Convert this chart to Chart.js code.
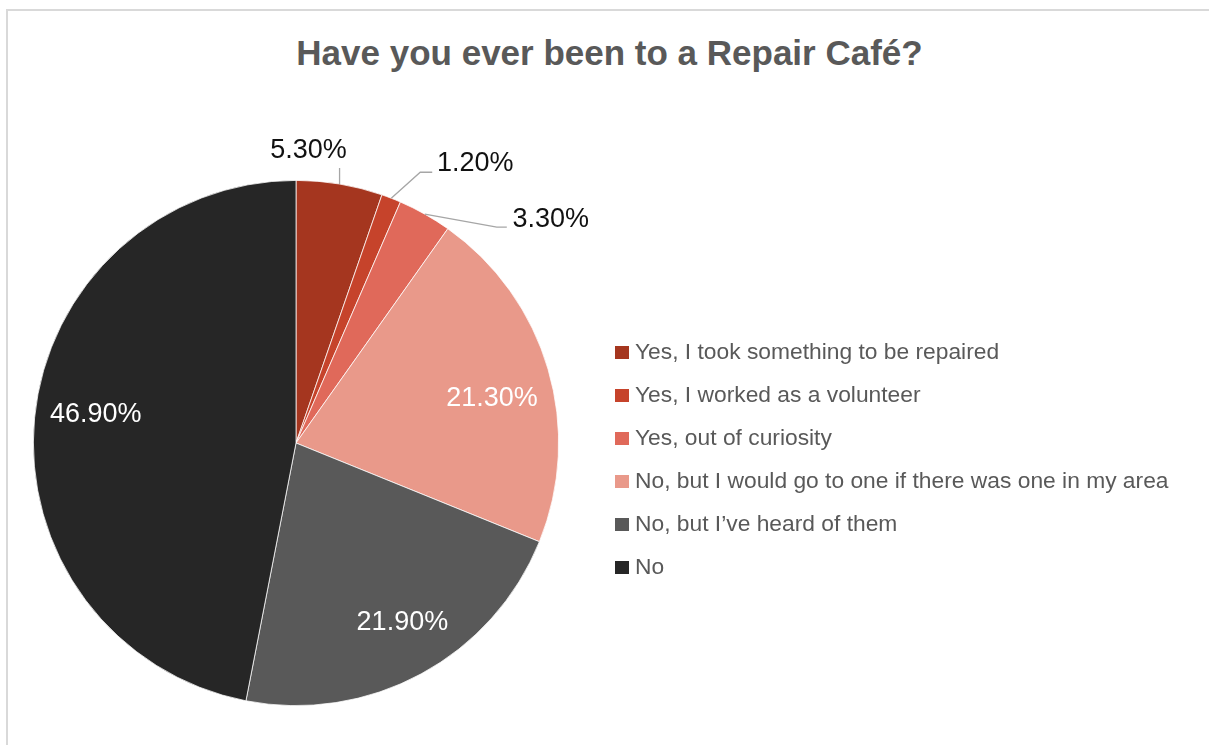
<!DOCTYPE html>
<html>
<head>
<meta charset="utf-8">
<title>Repair Café survey</title>
<script src="https://cdn.jsdelivr.net/npm/chart.js@4.4.1/dist/chart.umd.min.js"></script>
<style>
  html, body {
    margin: 0;
    padding: 0;
    background: #fff;
    overflow: hidden;
    font-family: "Liberation Sans", Arial, sans-serif;
  }
  .frame {
    position: absolute;
    left: 6px;
    top: 9px;
    width: 1400px;
    height: 900px;
    border-left: 2px solid #d9d9d9;
    border-top: 2px solid #d9d9d9;
  }
  .chart-title {
    position: absolute;
    left: 0;
    top: 33px;
    width: 1219px;
    text-align: center;
    font-size: 35px;
    line-height: 40px;
    font-weight: bold;
    color: #595959;
  }
  .chart-wrap {
    position: absolute;
    left: 0;
    top: 0;
    width: 1209px;
    height: 745px;
  }
  #legend {
    position: absolute;
    left: 615px;
    top: 330px;
    margin: 0;
    padding: 0;
    list-style: none;
  }
  #legend li {
    display: flex;
    align-items: center;
    height: 43px;
    font-size: 22.8px;
    color: #595959;
    white-space: nowrap;
  }
  #legend .box {
    width: 14px;
    height: 13px;
    margin-right: 6px;
    margin-top: 2px;
  }
</style>
</head>
<body>
<div class="frame"></div>
<div class="chart-title">Have you ever been to a Repair Café?</div>
<div class="chart-wrap"><canvas id="pieChart"></canvas></div>
<ul id="legend"></ul>

<script>
// --- data ---
const answers = [
  "Yes, I took something to be repaired",
  "Yes, I worked as a volunteer",
  "Yes, out of curiosity",
  "No, but I would go to one if there was one in my area",
  "No, but I\u2019ve heard of them",
  "No",
];
const shares = [5.3, 1.2, 3.3, 21.3, 21.9, 46.9];
const sliceColors = ["#a5361f", "#c6432b", "#e0695a", "#e9998a", "#595959", "#262626"];

// percentage labels: big slices inside, small ones outside with a leader line
const sliceLabels = {
  id: "sliceLabels",
  afterDatasetsDraw(chart, args, opts) {
    const ctx = chart.ctx;
    const arcs = chart.getDatasetMeta(0).data;
    ctx.save();
    ctx.font = "27px 'Liberation Sans', Arial, sans-serif";
    ctx.textAlign = "center";
    ctx.textBaseline = "middle";

    arcs.forEach((arc, i) => {
      const { x, y, startAngle, endAngle, outerRadius } = arc.getProps(
        ["x", "y", "startAngle", "endAngle", "outerRadius"],
        true
      );
      const mid = (startAngle + endAngle) / 2;
      const cos = Math.cos(mid);
      const sin = Math.sin(mid);
      const text = shares[i].toFixed(2) + "%";
      const lead = opts.leaders[i];

      if (!lead) {
        const r = outerRadius * opts.insideRatio;
        const [nx, ny] = opts.nudge[i] || [0, 0];
        ctx.fillStyle = "#ffffff";
        ctx.fillText(text, x + cos * r + nx, y + sin * r + ny);
        return;
      }

      // leader starts on the rim of the slice
      const px = x + cos * outerRadius;
      const py = y + sin * outerRadius;
      ctx.strokeStyle = "#a6a6a6";
      ctx.lineWidth = 1.3;
      ctx.beginPath();
      ctx.moveTo(px, py);
      lead.path.forEach(([dx, dy]) => ctx.lineTo(px + dx, py + dy));
      ctx.stroke();

      ctx.fillStyle = "#111111";
      ctx.fillText(text, px + lead.text[0], py + lead.text[1]);
    });
    ctx.restore();
  },
};

const ctxPie = document.getElementById("pieChart").getContext("2d");
const pieChart = new Chart(ctxPie, {
  type: "pie",
  data: {
    labels: answers,
    datasets: [
      {
        data: shares,
        backgroundColor: sliceColors,
        borderColor: "#ffffff",
        borderWidth: 0.75,
      },
    ],
  },
  options: {
    responsive: true,
    maintainAspectRatio: false,
    animation: false,
    layout: { padding: { left: 33, top: 180, right: 650, bottom: 39 } },
    plugins: {
      legend: { display: false },
      tooltip: { enabled: false },
      title: { display: false },
      sliceLabels: {
        insideRatio: 0.77,
        nudge: { 3: [2, 12], 4: [10, 2], 5: [1, -9] },
        leaders: {
          0: { path: [[0, -16]], text: [-31, -33] },
          1: { path: [[29, -26], [41, -26]], text: [84, -35] },
          2: { path: [[72, 13], [82, 13]], text: [126, 5] },
        },
      },
    },
  },
  plugins: [sliceLabels],
});

// --- legend in HTML, built from the chart's own legend items ---
const legendList = document.getElementById("legend");
pieChart.options.plugins.legend.labels.generateLabels(pieChart).forEach((item) => {
  const li = document.createElement("li");
  const box = document.createElement("span");
  box.className = "box";
  box.style.background = item.fillStyle;
  li.appendChild(box);
  li.appendChild(document.createTextNode(item.text));
  legendList.appendChild(li);
});
</script>
</body>
</html>
